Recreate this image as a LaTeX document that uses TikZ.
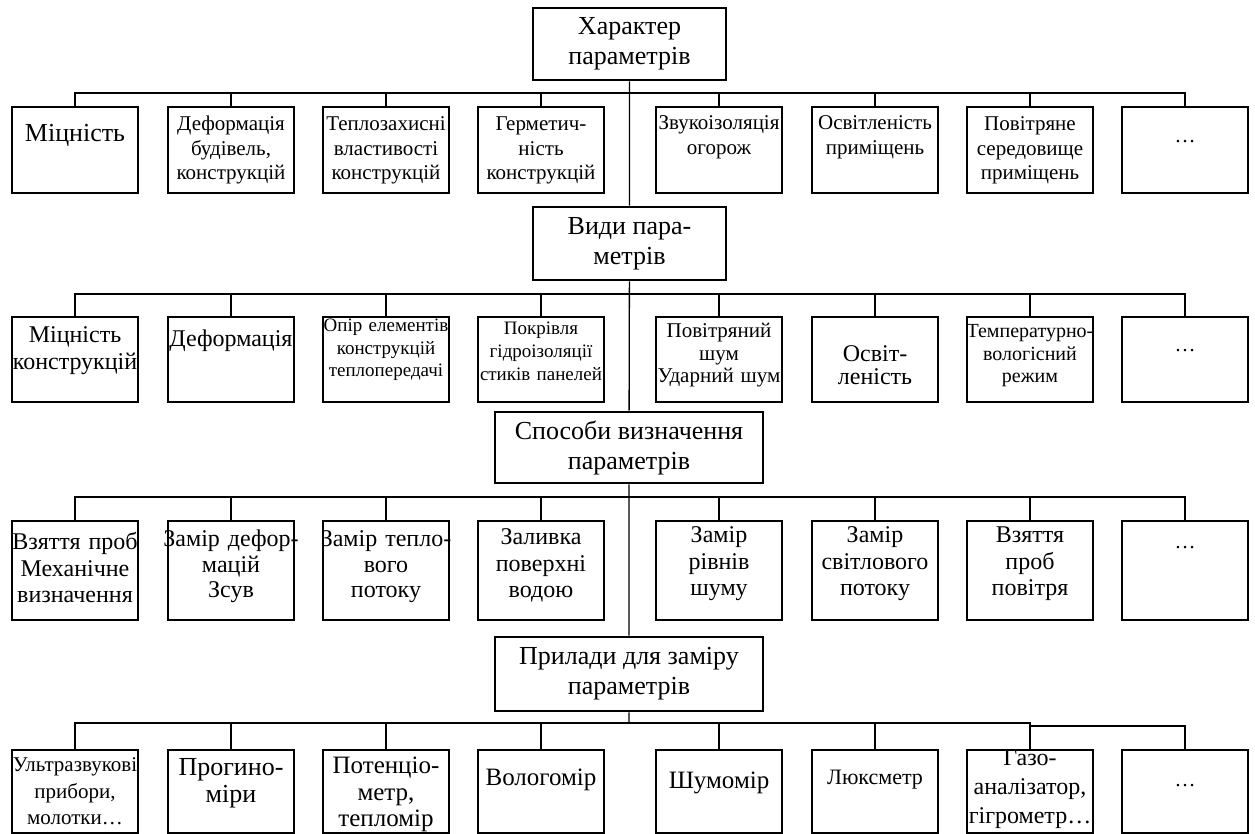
\documentclass[tikz,border=0pt]{standalone}
\usepackage{fontspec}
\setmainfont{Liberation Serif}
\usetikzlibrary{positioning}

\tikzset{
  hdr/.style={draw, line width=2.8pt, align=center, inner sep=0pt, font=\fontsize{26}{30}\selectfont},
  cell/.style={draw, line width=1.8pt, anchor=north, minimum width=126pt, text width=140pt, inner xsep=-7pt, inner ysep=0pt, align=center},
  rowA/.style={cell, text height=#1pt, text depth={86pt-#1pt}},
  rowB/.style={cell, text height=#1pt, text depth={85pt-#1pt}},
  rowC/.style={cell, text height=#1pt, text depth={99pt-#1pt}},
  rowD/.style={cell, text height=#1pt, text depth={83pt-#1pt}},
  txt/.style 2 args={font=\fontsize{#1}{#2}\selectfont},
  link/.style={line width=1.3pt},
}

\begin{document}
\begin{tikzpicture}[x=1pt,y=-1pt]
			
			\useasboundingbox (0,0) rectangle (1255,834);
			
			% headers on the spine
			\node[hdr, minimum width=193pt, minimum height=72pt] (har) at (629.5,44) {Характер\\параметрів};
			\node[hdr, minimum width=193pt, minimum height=73pt] (vyd) at (629.5,243.5) {Види пара-\\метрів};
			\node[hdr, minimum width=268pt, minimum height=71pt] (spos) at (629,447.5) {Способи визначення\\параметрів};
			\node[hdr, minimum width=268pt, minimum height=74pt] (pryl) at (629,674) {Прилади для заміру\\параметрів};
			
			\coordinate (bk) at (629,93);
			\coordinate (bv) at (629,294);
			\coordinate (bs) at (629,497);
			\coordinate (bp) at (629,723);
			
			% row 1
			\node[rowA=35, txt={26}{30}] (k1) at (75,106) {Міцність};
			\node[rowA=24, txt={21}{24.5}] (k2) at (231,106) {Деформація\\будівель,\\конструкцій};
			\node[rowA=24, txt={21}{24.5}] (k3) at (386,106) {Теплозахисні\\властивості\\конструкцій};
			\node[rowA=24, txt={21}{24.5}] (k4) at (541,106) {Герметич-\\ність\\конструкцій};
			\node[rowA=23, txt={21}{24.5}] (k5) at (719,106) {Звукоізоляція\\огорож};
			\node[rowA=23, txt={21}{24.5}] (k6) at (875,106) {Освітленість\\приміщень};
			\node[rowA=24, txt={21}{24.5}] (k7) at (1030,106) {Повітряне\\середовище\\приміщень};
			\node[rowA=36, txt={21}{24}] (k8) at (1185,106) {…};
			
			% row 2
			\node[rowB=26, txt={24}{27}] (v1) at (75,316) {Міцність\\конструкцій};
			\node[rowB=30, txt={24}{27}] (v2) at (231,316) {Деформація};
			\node[rowB=15, txt={19}{22.5}] (v3) at (386,316) {Опір елементів\\конструкцій\\теплопередачі};
			\node[rowB=18, txt={19}{23}] (v4) at (541,316) {Покрівля\\гідроізоляції\\стиків панелей};
			\node[rowB=21, txt={21}{22.5}] (v5) at (719,316) {Повітряний\\шум\\Ударний шум};
			\node[rowB=45, txt={24}{23}] (v6) at (875,316) {Освіт-\\леність};
			\node[rowB=21, txt={20}{22.5}] (v7) at (1030,316) {Температурно-\\вологісний\\режим};
			\node[rowB=35, txt={21}{24}] (v8) at (1185,316) {…};
			
			% row 3
			\node[rowC=29, txt={24}{26.5}] (s1) at (75,520) {Взяття проб\\Механічне\\визначення};
			\node[rowC=26, txt={24}{25.5}] (s2) at (231,520) {Замір дефор-\\мацій\\Зсув};
			\node[rowC=26, txt={24}{25.5}] (s3) at (386,520) {Замір тепло-\\вого\\потоку};
			\node[rowC=24, txt={24}{26.5}] (s4) at (541,520) {Заливка\\поверхні\\водою};
			\node[rowC=22, txt={24}{26.5}] (s5) at (719,520) {Замір\\рівнів\\шуму};
			\node[rowC=22, txt={24}{26.5}] (s6) at (875,520) {Замір\\світлового\\потоку};
			\node[rowC=22, txt={24}{26.5}] (s7) at (1030,520) {Взяття\\проб\\повітря};
			\node[rowC=28, txt={21}{24}] (s8) at (1185,520) {…};
			
			% row 4
			\node[rowD=22, txt={21}{26.5}] (p1) at (75,749) {Ультразвукові\\прибори,\\молотки…};
			\node[rowD=26, txt={26}{27}] (p2) at (231,749) {Прогино-\\міри};
			\node[rowD=24, txt={25}{26.5}] (p3) at (386,749) {Потенціо-\\метр,\\тепломір};
			\node[rowD=36, txt={25}{27}] (p4) at (541,749) {Вологомір};
			\node[rowD=39, txt={25}{27}] (p5) at (719,749) {Шумомір};
			\node[rowD=35, txt={22}{26}] (p6) at (875,749) {Люксметр};
			\node[rowD=16, txt={24}{29}] (p7) at (1030,749) {Газо-\\аналізатор,\\гігрометр…};
			\node[rowD=37, txt={21}{24}] (p8) at (1185,749) {…};
			
			% spine
			\draw[link] (har) -- (vyd) (vyd) -- (spos) (spos) -- (pryl) (pryl) -- (bp);
			
			% buses and drops
			\draw[link] (bk) -| (k1) (bk) -| (k2) (bk) -| (k3) (bk) -| (k4)
			            (bk) -| (k5) (bk) -| (k6) (bk) -| (k7) (bk) -| (k8);
			\draw[link] (bv) -| (v1) (bv) -| (v2) (bv) -| (v3) (bv) -| (v4)
			            (bv) -| (v5) (bv) -| (v6) (bv) -| (v7) (bv) -| (v8);
			\draw[link] (bs) -| (s1) (bs) -| (s2) (bs) -| (s3) (bs) -| (s4)
			            (bs) -| (s5) (bs) -| (s6) (bs) -| (s7) (bs) -| (s8);
			\draw[link] (bp) -| (p1) (bp) -| (p2) (bp) -| (p3) (bp) -| (p4)
			            (bp) -| (p5) (bp) -| (p6) (bp) -| (p7);
			\draw[link] (p7.north |- bp) -- ++(0,3) -| (p8);
			
		\end{tikzpicture}
\end{document}
